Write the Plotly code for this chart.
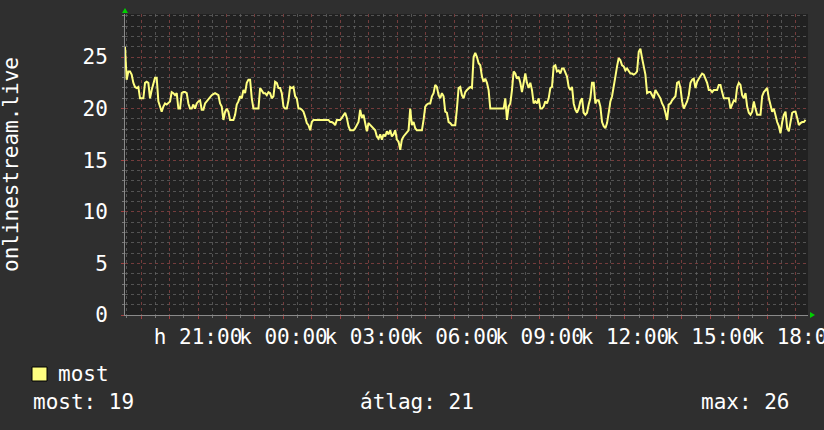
import plotly.graph_objects as go
import pandas as pd

# values, ~3.5 min step, from Mon 18:26 to Tue 18:24
seg1 = [26.0, 22.8, 23.6, 23.6, 23.3, 22.5, 22.1, 22.0, 22.1, 21.0, 21.0, 21.0, 22.5, 22.6, 22.5, 21.0, 21.8,
        22.5, 23.0, 23.0, 20.7, 20.2, 19.7, 20.2, 20.5, 20.4, 20.6, 20.7, 21.6, 21.5, 21.3, 21.5, 20.0, 20.0,
        21.5, 21.6, 21.6, 21.5, 20.5, 20.0, 20.0, 20.4, 20.0, 20.5, 20.7, 20.8, 19.9, 19.9, 20.5, 20.7, 21.0,
        21.2, 21.3, 21.4, 21.5, 21.4, 21.3, 20.5, 20.2, 18.9, 19.7, 20.0, 19.7, 18.9, 18.9, 18.9, 19.4, 20.4,
        20.7, 21.2, 21.0, 21.8, 21.5, 22.5, 22.8, 22.8, 21.0, 20.0, 20.0, 20.0, 20.0, 22.0, 21.8, 21.5, 21.5,
        21.3, 21.6, 21.5, 21.0, 21.2, 22.6, 22.5, 22.0, 22.0, 21.5, 20.2, 20.0, 20.0, 20.8, 22.1, 22.0, 22.1]
seg2 = [21.2, 21.0, 20.0, 20.0, 19.9, 19.7, 19.2, 18.6, 18.4, 17.9, 18.7, 18.9, 18.9, 18.9, 18.9, 18.9, 18.9,
        18.9, 18.9, 18.9, 18.9, 18.7, 18.7, 18.6, 18.4, 18.9, 18.9, 18.9, 19.1, 19.4, 19.6, 19.1, 18.3, 17.9,
        17.9, 17.9, 18.1, 18.4, 18.7, 19.9, 19.1, 19.4, 18.7, 17.8, 18.6, 18.4, 18.3, 18.1, 17.9, 17.3, 17.1,
        17.5, 17.0, 17.5, 17.3, 17.8, 17.5, 17.9, 17.3, 17.5, 17.9, 17.0, 16.8, 16.0, 17.0, 17.3, 17.5, 17.6,
        17.9, 20.0, 18.4, 18.7, 18.1, 17.9, 17.9, 17.9, 17.9, 18.9, 20.2, 20.4, 20.5, 20.5, 21.2, 21.5, 22.3,
        22.1, 21.3, 21.0, 21.5, 21.2, 19.7, 19.6, 18.7, 18.6, 18.4, 18.4, 18.4, 20.0, 22.0, 22.1, 21.3, 21.0]
seg3 = [21.6, 21.8, 22.0, 22.1, 22.0, 25.0, 25.4, 25.0, 24.4, 24.2, 23.1, 22.6, 22.9, 22.5, 21.8, 20.0, 20.0,
        20.0, 20.0, 20.0, 20.0, 20.0, 20.0, 20.0, 21.0, 18.9, 20.2, 20.5, 21.8, 23.6, 23.4, 22.9, 23.1, 22.5,
        21.6, 22.5, 23.4, 22.5, 22.0, 22.5, 21.8, 20.5, 20.7, 20.5, 21.0, 20.0, 20.0, 20.2, 20.7, 20.5, 21.0,
        22.0, 22.1, 24.1, 24.2, 23.6, 23.7, 23.4, 23.9, 23.9, 23.4, 23.1, 22.1, 21.8, 22.1, 20.5, 19.9, 19.6,
        20.0, 20.7, 21.0, 19.6, 19.4, 19.6, 20.4, 21.0, 22.5, 22.5, 20.5, 20.8, 20.8, 20.2, 18.7, 18.3, 18.1,
        18.6, 19.6, 20.7, 21.2, 22.0, 23.1, 24.1, 24.9, 24.7, 24.2, 24.1, 23.7, 23.9, 23.6, 23.4, 23.4, 23.3]
seg4 = [23.4, 23.6, 25.5, 25.8, 24.9, 23.9, 23.3, 21.5, 21.6, 21.6, 21.3, 21.0, 21.8, 21.5, 21.3, 21.0, 20.5,
        20.2, 19.6, 18.9, 20.4, 20.5, 20.8, 21.0, 21.2, 22.5, 22.6, 22.0, 20.7, 20.0, 20.4, 20.7, 21.3, 22.5,
        22.8, 22.9, 22.0, 22.6, 22.9, 23.1, 23.4, 23.3, 22.9, 22.5, 21.8, 21.8, 21.6, 21.8, 21.8, 21.8, 22.3,
        22.3, 21.6, 21.0, 21.0, 21.0, 21.0, 20.0, 20.5, 20.8, 20.7, 22.1, 22.5, 22.3, 21.3, 21.0, 21.5, 20.2,
        19.6, 19.4, 19.7, 20.7, 20.0, 19.4, 19.4, 19.4, 21.2, 21.6, 21.8, 22.0, 21.0, 20.2, 19.7, 20.0, 19.2,
        18.7, 18.3, 17.6, 18.7, 19.4, 19.7, 18.1, 17.8, 18.9, 19.6, 19.7, 19.7, 19.1, 18.4, 18.6, 18.7, 18.7, 18.9]
values = seg1 + seg2 + seg3 + seg4

start = pd.Timestamp("2024-01-01 18:26")   # hétfő
end = start + pd.Timedelta(hours=24)
times = pd.date_range(start, periods=len(values), freq="211s")

tick_hours = pd.date_range("2024-01-01 19:00", "2024-01-02 18:00", freq="1h")
tick_labels = {"21": "h 21:00", "00": "k 00:00", "03": "k 03:00", "06": "k 06:00",
               "09": "k 09:00", "12": "k 12:00", "15": "k 15:00", "18": "k 18:00"}
tick_text = [tick_labels.get(t.strftime("%H"), "") if t.day == 2 or t.hour == 21 else "" for t in tick_hours]

y_ticks = [0, 5, 10, 15, 20, 25]
series_name = "most"
y_title = "onlinestream.live"

BG = "#2f2f2f"
CANVAS = "#212121"
TXT = "#ffffff"
FONT = "DejaVu Sans Mono"
MAJOR = "rgba(125,55,55,0.8)"
MINOR = "rgba(105,105,105,0.7)"
FS = 21

W, H = 824, 430
L, R, T, B = 125, 16, 14, 115
pw, ph = W - L - R, H - T - B


def px(x):
    return (x - L) / pw


def py(y):
    return (H - B - y) / ph


fig = go.Figure()
fig.add_trace(go.Scatter(x=times, y=values, mode="lines",
                         line=dict(color="#ffff80", width=2), hoverinfo="skip"))

fig.update_layout(
    width=W, height=H,
    margin=dict(l=L, r=R, t=T, b=B, autoexpand=False),
    paper_bgcolor=BG, plot_bgcolor=CANVAS,
    showlegend=False,
    font=dict(family=FONT, size=FS, color=TXT),
    xaxis=dict(
        range=[start, end], tickvals=list(tick_hours), ticktext=tick_text,
        tickangle=0, automargin=False, ticklabeloverflow="allow",
        showgrid=True, gridcolor=MAJOR, griddash="dot", gridwidth=1,
        ticks="outside", ticklen=3, tickcolor="#a04040",
        minor=dict(dtick=30 * 60 * 1000, showgrid=True, gridcolor=MINOR, griddash="dot",
                   ticks="outside", ticklen=2, tickcolor="#777777"),
        showline=True, linecolor="#8a8a8a", linewidth=1,
        zeroline=False, tickfont=dict(size=FS),
    ),
    yaxis=dict(
        range=[0, 29.17], tickvals=y_ticks, automargin=False,
        showgrid=True, gridcolor=MAJOR, griddash="dot", gridwidth=1,
        ticks="outside", ticklen=3, tickcolor="#a04040",
        minor=dict(dtick=1, showgrid=True, gridcolor=MINOR, griddash="dot",
                   ticks="outside", ticklen=2, tickcolor="#777777"),
        showline=True, linecolor="#8a8a8a", linewidth=1,
        zeroline=False, tickfont=dict(size=FS), ticklabelstandoff=9,
    ),
)

# axis arrows
green = "#00d000"
fig.add_shape(type="path", xref="paper", yref="paper", fillcolor=green, line=dict(width=0),
              path=f"M {px(122)} {py(13)} L {px(128)} {py(13)} L {px(125)} {py(8)} Z")
fig.add_shape(type="path", xref="paper", yref="paper", fillcolor=green, line=dict(width=0),
              path=f"M {px(810)} {py(312)} L {px(810)} {py(318)} L {px(815)} {py(315)} Z")

# y title
fig.add_annotation(text=y_title, xref="paper", yref="paper", x=px(10.5), y=0.5,
                   textangle=-90, showarrow=False, xanchor="center", yanchor="middle",
                   font=dict(size=FS))

# legend
fig.add_shape(type="rect", xref="paper", yref="paper", x0=px(32), x1=px(47), y0=py(381), y1=py(367),
              fillcolor="#ffff80", line=dict(color="#000000", width=1))
fig.add_annotation(text=series_name, xref="paper", yref="paper", x=px(56), y=py(374),
                   xanchor="left", yanchor="middle", showarrow=False)

last_v = values[-1]
avg_v = sum(values) / len(values)
max_v = max(values)
stats = [(f"most: {last_v:.0f}", 31), (f"átlag: {avg_v:.0f}", 358), (f"max: {max_v:.0f}", 699)]
for txt, xl in stats:
    fig.add_annotation(text=txt, xref="paper", yref="paper", x=px(xl), y=py(402),
                       xanchor="left", yanchor="middle", showarrow=False)

fig.write_html("out.html", config={"displayModeBar": False},
               post_script="document.body.style.margin='0';")
